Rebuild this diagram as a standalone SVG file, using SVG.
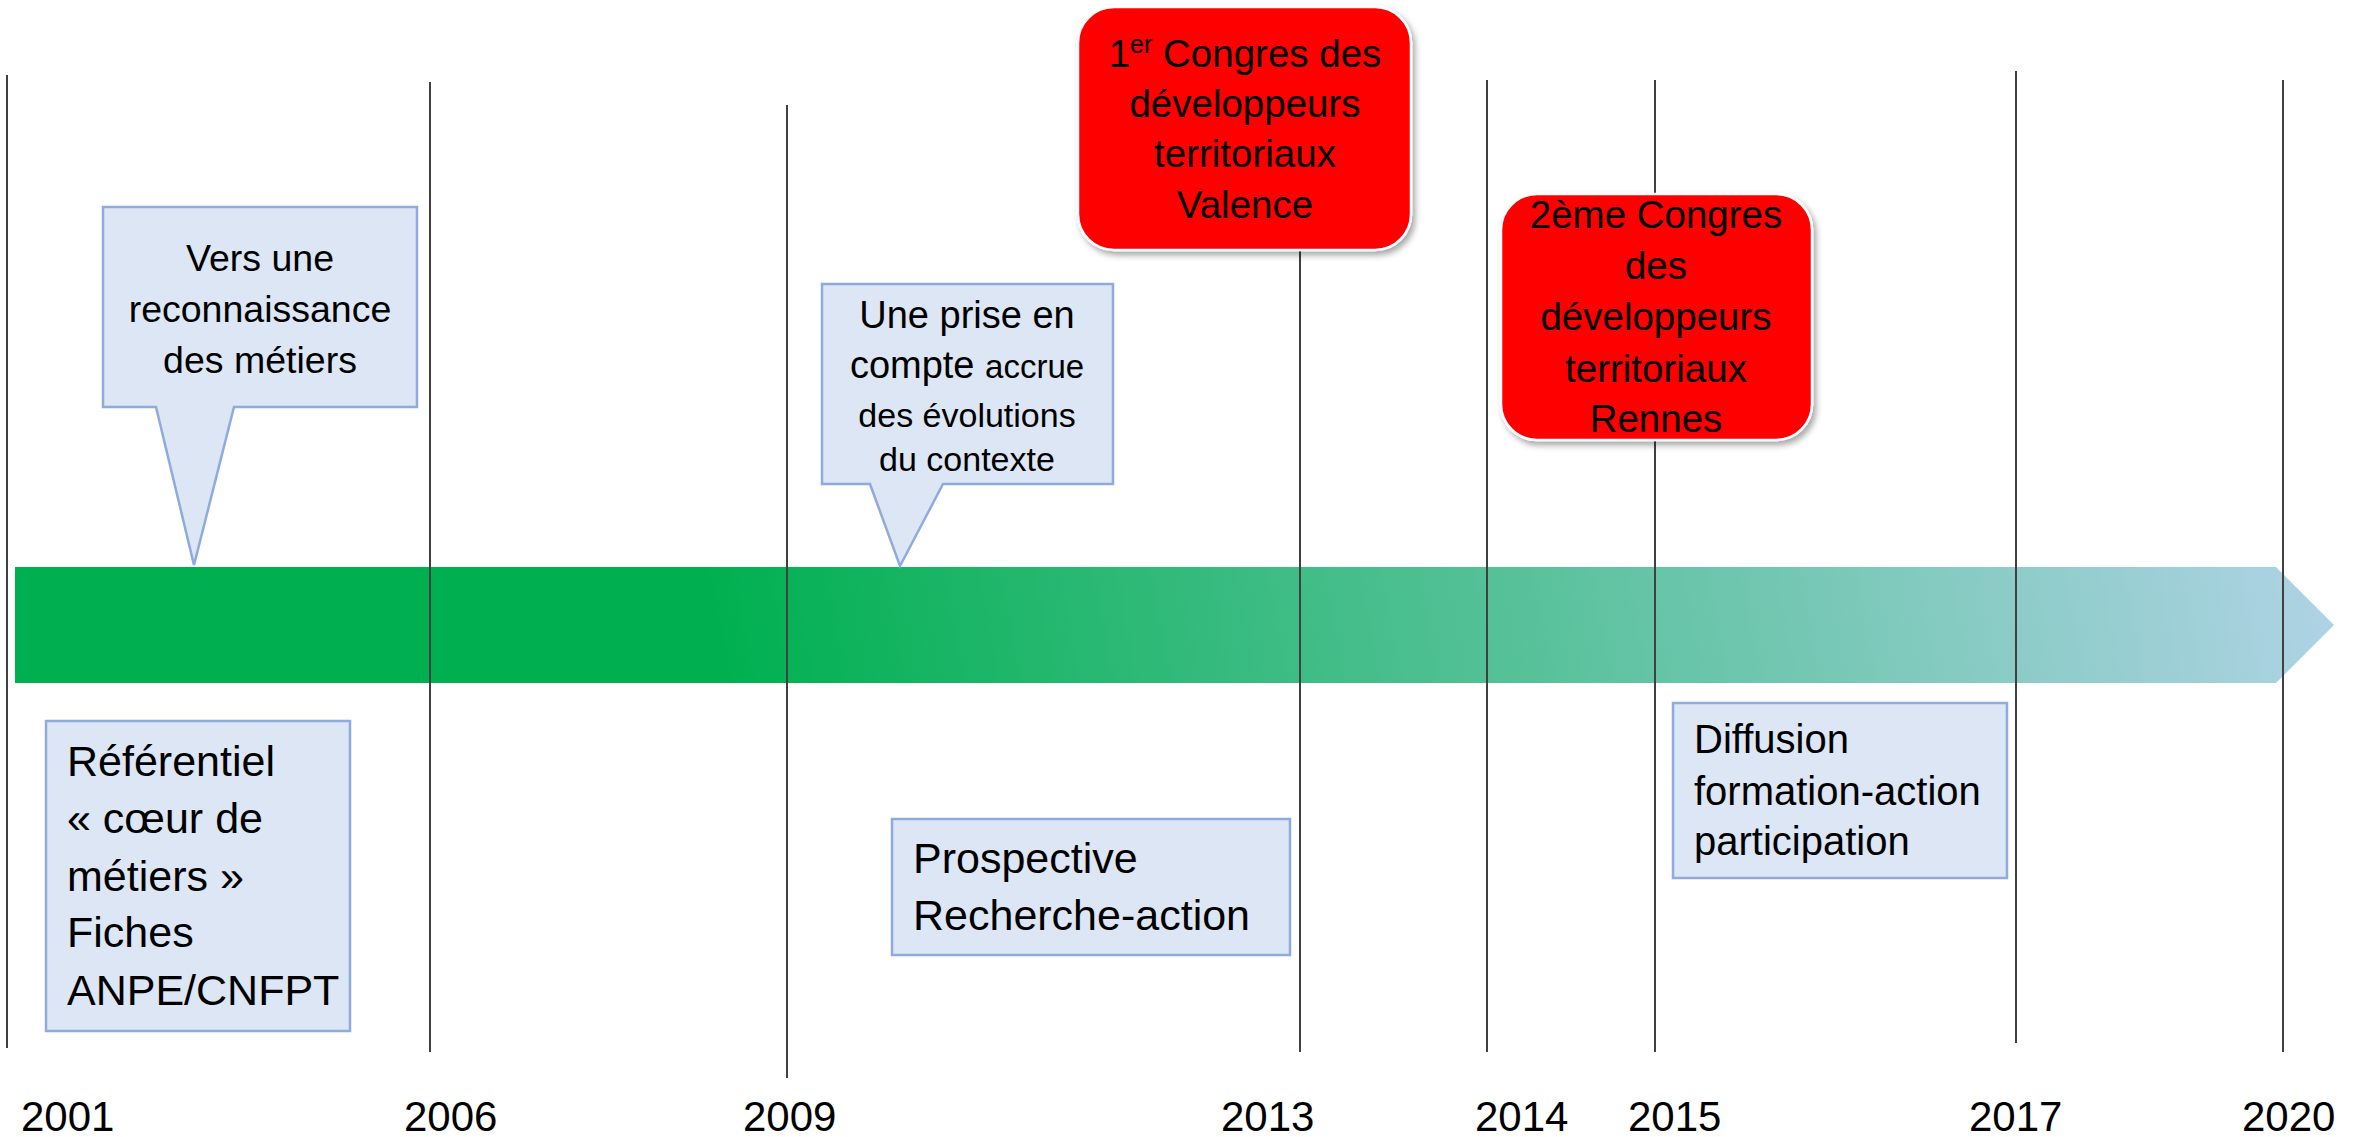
<svg xmlns="http://www.w3.org/2000/svg" width="2364" height="1137" viewBox="0 0 2364 1137">
<defs>
<style>
.t{font-family:"Liberation Sans",Arial,sans-serif;fill:#000}
.c{text-anchor:middle}
.vl{stroke:#404040;stroke-width:2}
.call{fill:#DCE6F4;stroke:#8FAADC;stroke-width:2.5}
.red{fill:#FF0000;stroke:#FFFFFF;stroke-width:2.5;filter:url(#sh)}
.yr{font-size:42px}
</style>
<linearGradient id="g" gradientUnits="userSpaceOnUse" x1="740" y1="760" x2="2320" y2="470">
<stop offset="0" stop-color="#00B050"/>
<stop offset="1" stop-color="#B0D3E6"/>
</linearGradient>
<filter id="sh" x="-10%" y="-10%" width="125%" height="125%">
<feDropShadow dx="3" dy="4" stdDeviation="3" flood-color="#000" flood-opacity="0.35"/>
</filter>
</defs>
<rect width="2364" height="1137" fill="#fff"/>

<g id="timeline-arrow">
<polygon points="15,567 2276,567 2334,625 2276,683 15,683" fill="url(#g)"/>
</g>

<g id="connectors">
<line class="vl" x1="7" y1="75" x2="7" y2="1048"/>
<line class="vl" x1="430" y1="82" x2="430" y2="1052"/>
<line class="vl" x1="787" y1="105" x2="787" y2="1078"/>
<line class="vl" x1="1300" y1="245" x2="1300" y2="1052"/>
<line class="vl" x1="1487" y1="80" x2="1487" y2="1052"/>
<line class="vl" x1="1655" y1="80" x2="1655" y2="1052"/>
<line class="vl" x1="2016" y1="71" x2="2016" y2="1043"/>
<line class="vl" x1="2283" y1="80" x2="2283" y2="1052"/>
</g>

<g id="years">
<text class="t yr" x="21" y="1131">2001</text>
<text class="t yr" x="404" y="1131">2006</text>
<text class="t yr" x="743" y="1131">2009</text>
<text class="t yr" x="1221" y="1131">2013</text>
<text class="t yr" x="1475" y="1131">2014</text>
<text class="t yr" x="1628" y="1131">2015</text>
<text class="t yr" x="1969" y="1131">2017</text>
<text class="t yr" x="2242" y="1131">2020</text>
</g>

<g id="callout-reconnaissance">
<path class="call" d="M103,207 H417 V407 H234 L194,565 L156,407 H103 Z"/>
<text class="t c" font-size="37.5" x="260" y="271">Vers une</text>
<text class="t c" font-size="37.5" x="260" y="322">reconnaissance</text>
<text class="t c" font-size="37.5" x="260" y="373">des métiers</text>
</g>

<g id="callout-prise-en-compte">
<path class="call" d="M822,284 H1113 V484 H943 L900,566 L870,484 H822 Z"/>
<text class="t c" font-size="38" x="967" y="328">Une prise en</text>
<text class="t c" x="967" y="378"><tspan font-size="38">compte </tspan><tspan font-size="33">accrue</tspan></text>
<text class="t c" font-size="34" x="967" y="427">des évolutions</text>
<text class="t c" font-size="34" x="967" y="471">du contexte</text>
</g>

<g id="congres-valence">
<rect class="red" x="1078" y="7" width="333" height="243" rx="36"/>
<text class="t c" font-size="38.5" x="1245" y="67">1<tspan font-size="25" dy="-14">er</tspan><tspan dy="14"> Congres des</tspan></text>
<text class="t c" font-size="38.5" x="1245" y="117">développeurs</text>
<text class="t c" font-size="38.5" x="1245" y="167">territoriaux</text>
<text class="t c" font-size="38.5" x="1245" y="218">Valence</text>
</g>

<g id="congres-rennes">
<rect class="red" x="1501" y="194" width="311" height="246" rx="36"/>
<text class="t c" font-size="38.5" x="1656" y="228">2ème Congres</text>
<text class="t c" font-size="38.5" x="1656" y="279">des</text>
<text class="t c" font-size="38.5" x="1656" y="330">développeurs</text>
<text class="t c" font-size="38.5" x="1656" y="382">territoriaux</text>
<text class="t c" font-size="38.5" x="1656" y="432">Rennes</text>
</g>

<g id="box-referentiel">
<rect class="call" x="46" y="721" width="304" height="310"/>
<text class="t" font-size="43" x="67" y="776">Référentiel</text>
<text class="t" font-size="43" x="67" y="833">« cœur de</text>
<text class="t" font-size="43" x="67" y="891">métiers »</text>
<text class="t" font-size="43" x="67" y="947">Fiches</text>
<text class="t" font-size="43" x="67" y="1005">ANPE/CNFPT</text>
</g>

<g id="box-prospective">
<rect class="call" x="892" y="819" width="398" height="136"/>
<text class="t" font-size="43" x="913" y="873">Prospective</text>
<text class="t" font-size="43" x="913" y="930">Recherche-action</text>
</g>

<g id="box-diffusion">
<rect class="call" x="1673" y="703" width="334" height="175"/>
<text class="t" font-size="40" x="1694" y="753">Diffusion</text>
<text class="t" font-size="40" x="1694" y="805">formation-action</text>
<text class="t" font-size="40" x="1694" y="855">participation</text>
</g>
</svg>
